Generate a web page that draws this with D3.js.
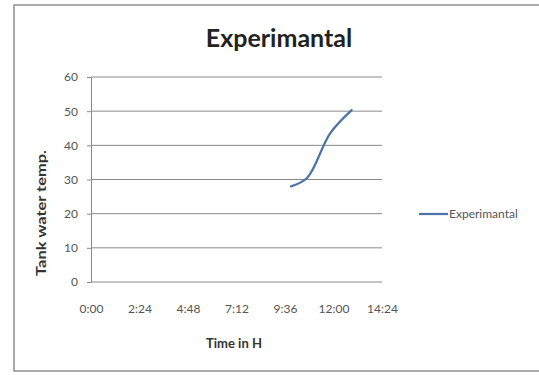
<!DOCTYPE html>
<html>
<head>
<meta charset="utf-8">
<script src="https://cdn.jsdelivr.net/npm/d3@7"></script>
<style>
  html, body { margin: 0; padding: 0; background: #fff; }
  svg { display: block; }
  text { font-family: Lato, "Open Sans", sans-serif; }
</style>
</head>
<body>
<div id="chart"></div>
<script>
// values
const times = ['9:54', '10:42', '11:50', '12:54'];
const temps = [28, 30.5, 43.5, 50.3];
const seriesName = 'Experimantal';
const xTicks = ['0:00', '2:24', '4:48', '7:12', '9:36', '12:00', '14:24'];
const yTicks = [0, 10, 20, 30, 40, 50, 60];

const width = 539;
const height = 375;
const plot = { left: 91, right: 382, top: 77, bottom: 282 };

// "h:mm" -> fraction of a day, like excel keeps it
const toDays = (s) => {
  const [h, m] = s.split(':').map(Number);
  return (h * 60 + m) / 1440;
};

const points = times.map((t, i) => ({ x: toDays(t), y: temps[i] }));

const svg = d3.select('#chart').append('svg')
  .attr('width', width)
  .attr('height', height);

// outer frame, right edge runs off the picture
svg.append('rect')
  .attr('x', 14).attr('y', 5)
  .attr('width', 560).attr('height', 366)
  .attr('fill', '#fff')
  .attr('stroke', '#8e8e8e')
  .attr('stroke-width', 1.5);

const x = d3.scaleLinear()
  .domain([0, toDays(xTicks[xTicks.length - 1])])
  .range([plot.left, plot.right]);

const y = d3.scaleLinear()
  .domain([0, d3.max(yTicks)])
  .range([plot.bottom, plot.top]);

// gridlines
svg.append('g')
  .selectAll('line')
  .data(yTicks)
  .join('line')
  .attr('x1', plot.left).attr('x2', plot.right)
  .attr('y1', (d) => y(d)).attr('y2', (d) => y(d))
  .attr('stroke', '#8a8a8a')
  .attr('stroke-width', 1);

// y axis
const yAxis = svg.append('g')
  .attr('transform', `translate(${plot.left},0)`)
  .call(d3.axisLeft(y).tickValues(yTicks).tickSize(4).tickPadding(9));
yAxis.select('.domain').attr('stroke', '#8a8a8a');
yAxis.selectAll('.tick line').attr('stroke', '#8a8a8a');
yAxis.selectAll('.tick text')
  .attr('fill', '#555')
  .style('font-size', '12px');

// x axis, labels only
const xAxis = svg.append('g')
  .attr('transform', `translate(0,${plot.bottom})`)
  .call(d3.axisBottom(x)
    .tickValues(xTicks.map(toDays))
    .tickFormat((d, i) => xTicks[i])
    .tickSize(0)
    .tickPadding(22));
xAxis.select('.domain').remove();
xAxis.selectAll('.tick text')
  .attr('fill', '#555')
  .style('font-size', '12px');

// series
const line = d3.line()
  .x((d) => x(d.x))
  .y((d) => y(d.y))
  .curve(d3.curveCatmullRom.alpha(0.5));

svg.append('path')
  .datum(points)
  .attr('d', line)
  .attr('fill', 'none')
  .attr('stroke', '#4d74a6')
  .attr('stroke-width', 2.25)
  .attr('stroke-linecap', 'round');

// title
svg.append('text')
  .attr('x', 279).attr('y', 47)
  .attr('text-anchor', 'middle')
  .attr('font-weight', 'bold')
  .attr('fill', '#222')
  .style('font-size', '25px')
  .text(seriesName);

// axis titles
svg.append('text')
  .attr('x', 234).attr('y', 348)
  .attr('text-anchor', 'middle')
  .attr('font-weight', 'bold')
  .attr('fill', '#333')
  .style('font-size', '13px')
  .text('Time in H');

// the picture is stretched vertically, so this one runs long
svg.append('text')
  .attr('transform', 'translate(46,213) rotate(-90)')
  .attr('text-anchor', 'middle')
  .attr('font-weight', 'bold')
  .attr('fill', '#333')
  .attr('textLength', 126)
  .attr('lengthAdjust', 'spacingAndGlyphs')
  .style('font-size', '13px')
  .text('Tank water temp.');

// legend
const legend = svg.append('g').attr('transform', 'translate(419,214)');
legend.append('line')
  .attr('x1', 0).attr('x2', 29)
  .attr('stroke', '#4d74a6')
  .attr('stroke-width', 2.25);
legend.append('text')
  .attr('x', 30).attr('y', 4)
  .attr('fill', '#555')
  .style('font-size', '12px')
  .text(seriesName);
</script>
</body>
</html>
